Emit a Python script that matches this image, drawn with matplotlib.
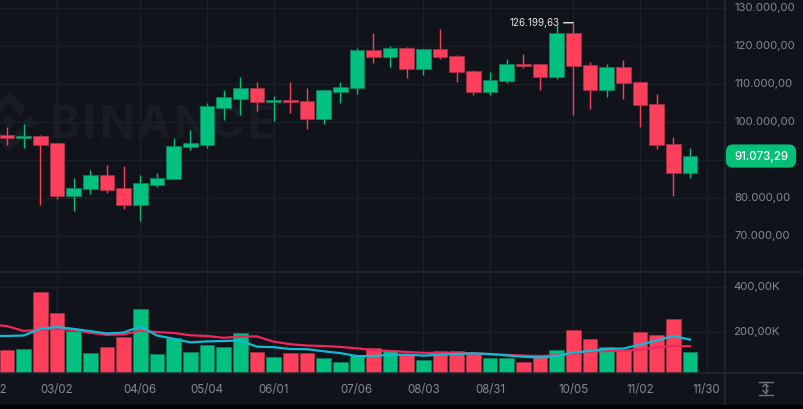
import numpy as np
import matplotlib
matplotlib.use('Agg')
import matplotlib.pyplot as plt
from matplotlib.patches import FancyBboxPatch, Polygon, Rectangle

plt.rcParams['font.family'] = ['Inter', 'DejaVu Sans']

# weekly BTC candles
opens = [96660, 95790, 96400, 94470, 80610, 82450, 86210, 82630, 78240, 83580, 85000, 93500, 94110, 103840,
         106210, 109030, 105260, 105870, 105600, 100790, 108050, 109030, 119100, 117100, 119470, 114030, 119290,
         117450, 113500, 108050, 110870, 115340, 115340, 111920, 123500, 115080, 108420, 114630, 110600, 104820,
         94370, 86660]
closes = [95950, 96470, 94030, 80610, 82720, 86210, 82180, 78240, 83950, 85340, 93840, 94470, 104290, 106660,
          109030, 105420, 105870, 105260, 100790, 108420, 109290, 119100, 117100, 119470, 114030, 119290, 117260,
          113320, 108050, 111130, 115340, 114820, 111920, 123500, 114740, 108420, 114560, 110340, 104550, 94030,
          86660, 91073.29]
highs = [98840, 99550, 96660, 94550, 85350, 87450, 88850, 88500, 86130, 86580, 95870, 97970, 105000, 108500,
         111920, 110680, 106920, 110530, 108950, 108420, 110530, 119470, 123500, 120160, 119820, 119290, 124550,
         117630, 113760, 113240, 116660, 117970, 115340, 125610, 126199.63, 115870, 115420, 116400, 110680, 107450,
         96130, 93160]
lows = [94030, 93240, 78240, 79900, 76580, 81130, 81470, 77180, 73960, 83050, 85000, 92710, 93240, 100600,
        101920, 102970, 100340, 102530, 98160, 99630, 105080, 107370, 115680, 114630, 111740, 112530, 116660,
        110600, 107260, 107260, 110420, 114290, 108500, 111470, 101920, 103500, 106580, 106130, 98760, 92970,
        80610, 85260]

# volume bars and the two moving averages on them, the averages start one week before the first bar
volumes = [122000, 127000, 375000, 285000, 206000, 109000, 136000, 178000, 301000, 107000, 174000, 112000, 144000,
           134000, 197000, 114000, 93000, 108000, 109000, 89000, 70000, 101000, 130000, 123000, 105000, 77000, 118000,
           117000, 104000, 89000, 87000, 69000, 90000, 123000, 212000, 171000, 136000, 123000, 200000, 188000, 257000,
           113000]
ma_short = [184000, 184000, 186000, 215000, 223000, 215000, 205000, 195000, 199000, 226000, 186000, 172000, 156000,
            160000, 162000, 164000, 137000, 135000, 127000, 126000, 117000, 109000, 96000, 96000, 102000, 102000,
            98000, 102000, 105000, 108000, 105000, 99000, 93000, 90000, 96000, 112000, 118000, 127000, 129000, 146000,
            164000, 184000, 168000]
ma_long = [234000, 227000, 206000, 210000, 215000, 210000, 198000, 189000, 191000, 207000, 201000, 197000, 187000,
           184000, 176000, 181000, 182000, 159000, 148000, 142000, 140000, 136000, 130000, 122000, 118000, 114000,
           110000, 109000, 109000, 108000, 104000, 101000, 98000, 96000, 99000, 108000, 115000, 118000, 120000,
           124000, 133000, 140000, 139000]

date_idx = [3, 8, 12, 16, 21, 25, 29, 34, 38, 42]
date_labels = ['03/02', '04/06', '05/04', '06/01', '07/06', '08/03', '08/31', '10/05', '11/02', '11/30']
price_ticks = [70000, 80000, 90000, 100000, 110000, 120000, 130000]
price_labels = ['70.000,00', '80.000,00', None, '100.000,00', '110.000,00', '120.000,00', '130.000,00']
vol_ticks = [200000, 400000]
vol_labels = ['200,00K', '400,00K']
last_price = 91073.29
top_price = 126199.63

BG = '#10131a'
GRID = '#1a2027'
SEP = '#242a31'
UP = '#02c07f'
DOWN = '#fd3f5c'
TXT = '#838a95'

W, H = 803, 409
fig = plt.figure(figsize=((W + 0.01) / 100, (H + 0.01) / 100), dpi=100, facecolor=BG)


def px_axes(x0, y0, x1, y1):
    a = fig.add_axes([x0 / W, 1 - y1 / H, (x1 - x0) / W, (y1 - y0) / H])
    a.set_zorder(1)
    return a


def fig_xy(pts):
    return [(x / W, 1 - y / H) for x, y in pts]


xlim = (-0.42, 43.1)
ax = px_axes(0, 0, 725, 272)
vol = px_axes(0, 273, 725, 373)
for a in (ax, vol):
    a.patch.set_alpha(0)
    a.set_xlim(*xlim)
    a.set_xticks(date_idx)
    a.tick_params(length=0, labelbottom=False, labelleft=False)
    a.grid(True, color=GRID, lw=1)
    a.set_axisbelow(True)
    for s in a.spines.values():
        s.set_visible(False)

# price pane, 38 px per 10k with 130k sitting 8.3 px from the top
ax.set_ylim(130000 - (272 - 8.3) / 38 * 10000, 130000 + 8.3 / 38 * 10000)
ax.set_yticks(price_ticks)
# volume pane is cut off above zero, 200k is 45.7 px
vol.set_ylim((378 - 373) / 45.7 * 200000, (378 - 273) / 45.7 * 200000)
vol.set_yticks(vol_ticks)

# watermark behind the panes
wm = '#191c23'
for ch, x in zip('BINANCE', [50, 83, 99.5, 137, 173.5, 211, 247.5]):
    fig.text(x / W, 1 - 138 / H, ch, fontsize=33, fontweight='bold', color=wm, zorder=0.5)
logo = [
    [(2, 122), (9, 115), (16, 122), (9, 129)],
    [(23, 122), (30, 115), (37, 122), (30, 129)],
    [(9, 92), (26, 109), (20, 115), (9, 104), (-2, 115), (-8, 109)],
    [(9, 152), (26, 135), (20, 129), (9, 140), (-2, 129), (-8, 135)],
]
for pts in logo:
    fig.add_artist(Polygon(fig_xy(pts), closed=True, color=wm, lw=0, transform=fig.transFigure, zorder=0.5))

for i in range(len(opens)):
    o, c = opens[i], closes[i]
    col = UP if c >= o else DOWN
    edge = '#06875f' if c >= o else '#b02f48'
    ax.plot([i, i], [lows[i], highs[i]], color=col, lw=1.0, solid_capstyle='butt', zorder=2)
    ax.bar(i, abs(c - o), bottom=min(o, c), width=0.88, color=col, edgecolor=edge, lw=0.5, zorder=3)
    vol.bar(i, volumes[i], width=0.88, color=col, edgecolor=edge, lw=0.5, zorder=3)

ma_x = np.arange(-1, len(opens))
vol.plot(ma_x, ma_long, color='#f0265f', lw=1.6, zorder=4)
vol.plot(ma_x, ma_short, color='#0fbcd4', lw=1.6, zorder=5)

# highest price marker
ax.annotate('126.199,63', xy=(34, top_price), xytext=(-14, 0), textcoords='offset pixels', ha='right', va='center',
            fontsize=7.1, color='#e8e8e8', arrowprops=dict(arrowstyle='-', color='#e8e8e8', lw=1, shrinkA=1, shrinkB=0),
            zorder=6)

# separators
fig.add_artist(plt.Line2D([725 / W, 725 / W], [1 - 405 / H, 1], color=SEP, lw=1.1, zorder=3))
fig.add_artist(plt.Line2D([0, 1], [1 - 272.5 / H] * 2, color=SEP, lw=1.1, zorder=3))
fig.add_artist(plt.Line2D([0, 1], [1 - 373 / H] * 2, color=SEP, lw=1.1, zorder=3))
fig.add_artist(Rectangle((0, 0), 1, 4 / H, transform=fig.transFigure, color='#000000', lw=0, zorder=3))

# axis labels
fs = 8.2
for p, lab in zip(price_ticks, price_labels):
    if lab:
        y = 8.3 + (130000 - p) / 10000 * 38
        fig.text(734 / W, 1 - y / H, lab, fontsize=fs, color=TXT, va='center', ha='left')
for v, lab in zip(vol_ticks, vol_labels):
    y = 378 - v / 200000 * 45.7
    fig.text(733 / W, 1 - y / H, lab, fontsize=fs, color=TXT, va='center', ha='left')
for i, lab in zip([-1] + date_idx, ['02/02'] + date_labels):
    x = (i - xlim[0]) / (xlim[1] - xlim[0]) * 725
    fig.text(x / W, 1 - 390 / H, lab, fontsize=8.3, color=TXT, va='center', ha='center')

# last price tag
fig.add_artist(FancyBboxPatch((728 / W, 1 - 165.5 / H), 66 / W, 19 / H, boxstyle='round,pad=0,rounding_size=0.006',
                              transform=fig.transFigure, fc='#02c076', ec='#02c076', lw=3, mutation_aspect=2,
                              zorder=3))
fig.text(734 / W, 1 - 156.5 / H, '91.073,29', fontsize=8.3, color='white', fontweight='medium', va='center', ha='left',
         zorder=4)

# auto scale icon
ic = '#6c7480'
for y in (382, 395):
    fig.add_artist(plt.Line2D([759 / W, 772.5 / W], [1 - y / H] * 2, color=ic, lw=1, zorder=3))
fig.add_artist(plt.Line2D([765.5 / W, 765.5 / W], [1 - 393 / H, 1 - 384 / H], color=ic, lw=1, zorder=3))
for y, d in ((384, 2.5), (393, -2.5)):
    fig.add_artist(plt.Line2D([763 / W, 765.5 / W, 768 / W], [1 - (y + d) / H, 1 - y / H, 1 - (y + d) / H], color=ic,
                              lw=1, zorder=3))

fig.savefig('out.png', dpi=100, facecolor=BG)
